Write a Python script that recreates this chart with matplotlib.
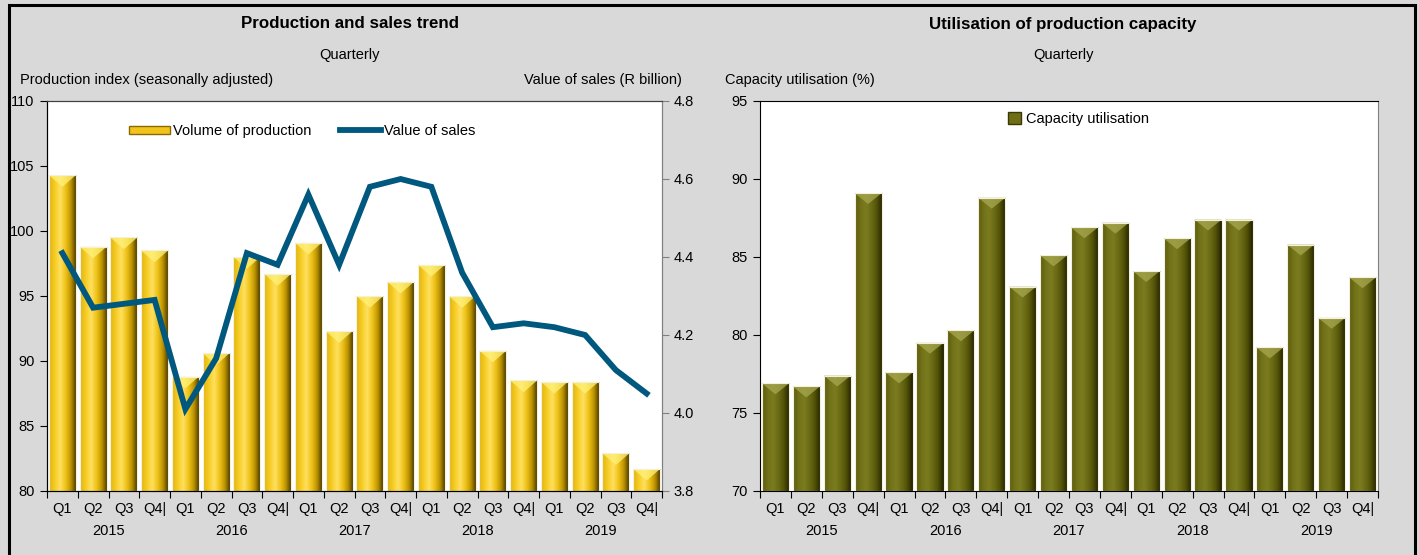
import matplotlib
matplotlib.use("Agg")
import matplotlib.pyplot as plt
import numpy as np
from matplotlib.colors import LinearSegmentedColormap
from matplotlib.patches import Rectangle, Polygon, Patch
from matplotlib.lines import Line2D
from matplotlib.transforms import blended_transform_factory

plt.rcParams["font.family"] = ["Liberation Sans Narrow", "Liberation Sans", "DejaVu Sans"]
FS = 10.5

# --- data ---
quarters = ["Q1", "Q2", "Q3", "Q4|"] * 5
years = ["2015", "2016", "2017", "2018", "2019"]

production = [104.3, 98.8, 99.5, 98.5,
              88.8, 90.6, 98.0, 96.7,
              99.1, 92.3, 95.0, 96.1,
              97.4, 95.0, 90.8, 88.5,
              88.4, 88.4, 82.9, 81.7]
sales = [4.41, 4.27, 4.28, 4.29,
         4.01, 4.14, 4.41, 4.38,
         4.56, 4.38, 4.58, 4.60,
         4.58, 4.36, 4.22, 4.23,
         4.22, 4.20, 4.11, 4.05]
capacity = [76.9, 76.7, 77.4, 89.1,
            77.6, 79.5, 80.3, 88.8,
            83.1, 85.1, 86.9, 87.2,
            84.1, 86.2, 87.4, 87.4,
            79.2, 85.8, 81.1, 83.7]

BG = "#d9d9d9"
LINE = "#00587f"
gold = LinearSegmentedColormap.from_list(
    "gold", ["#e0b414", "#f6cc22", "#ffe060", "#efc218", "#b89000", "#3e3000"])
olive = LinearSegmentedColormap.from_list(
    "olive", ["#5c5c10", "#727218", "#7b7b20", "#6a6a14", "#505008", "#202000"])


def bevel_bars(ax, x, vals, base, cmap, top_col, bevel, width=0.88):
    bars = ax.bar(x, np.array(vals) - base, width, bottom=base,
                  color="none", edgecolor="#f4f0dc", linewidth=0.8, zorder=3)
    grad = np.linspace(0, 1, 64).reshape(1, -1)
    for b, v in zip(bars, vals):
        x0 = b.get_x()
        x1 = x0 + b.get_width()
        im = ax.imshow(grad, cmap=cmap, aspect="auto", extent=[x0, x1, base, v],
                       zorder=2, interpolation="bicubic")
        im.set_clip_path(b)
        tri = Polygon([[x0, v], [x1, v], [(x0 + x1) / 2, v - bevel]],
                      closed=True, facecolor=top_col, edgecolor="none",
                      alpha=0.75, zorder=2.5)
        ax.add_patch(tri)
    return bars


def style_x(ax, n):
    ax.set_xlim(-0.5, n - 0.5)
    ax.set_xticks(np.arange(n + 1) - 0.5)
    ax.set_xticklabels([])
    ax.tick_params(axis="x", which="major", length=5, direction="out")
    ax.set_xticks(np.arange(n), minor=True)
    ax.set_xticklabels(quarters, minor=True, fontsize=FS)
    ax.tick_params(axis="x", which="minor", length=0, pad=8)
    tr = blended_transform_factory(ax.transData, ax.transAxes)
    for i, yr in enumerate(years):
        ax.text(4 * i + 1.5, -0.102, yr, transform=tr, ha="center",
                va="center", fontsize=FS)


fig = plt.figure(figsize=(14.19, 5.55), dpi=100, facecolor=BG)
n = len(production)
x = np.arange(n)

# --- left panel ---
ax1 = fig.add_axes([47 / 1419, 64 / 555, 615 / 1419, 390 / 555])
ax1.set_facecolor("white")
bevel_bars(ax1, x, production, 80, gold, "#fff27a", 0.9)
ax1.set_ylim(80, 110)
ax1.set_yticks(range(80, 111, 5))
ax1.tick_params(axis="y", labelsize=FS, length=5, pad=4)
style_x(ax1, n)
ax2 = ax1.twinx()
ax2.plot(x, sales, color=LINE, lw=4.2, solid_joinstyle="miter", zorder=5)
ax2.set_ylim(3.8, 4.8)
ax2.set_yticks(np.arange(3.8, 4.81, 0.2))
ax2.set_yticklabels([f"{v:.1f}" for v in np.arange(3.8, 4.81, 0.2)])
ax2.tick_params(axis="y", labelsize=FS, length=5, color="#808080")
for ax in (ax1, ax2):
    ax.spines["right"].set_color("#808080")
    ax.spines["top"].set_color("#404040")
handles = [Patch(facecolor="#f0c41c", edgecolor="#8a6a00"),
           Line2D([], [], color=LINE, lw=4.2)]
ax1.legend(handles, ["Volume of production", "Value of sales"], loc="center",
           bbox_to_anchor=(0.415, 0.923), ncol=2, frameon=False, fontsize=FS,
           handlelength=2.8, handleheight=0.45, handletextpad=0.2, columnspacing=2.0)

# --- right panel ---
ax3 = fig.add_axes([760 / 1419, 64 / 555, 618 / 1419, 390 / 555])
ax3.set_facecolor("white")
bevel_bars(ax3, x, capacity, 70, olive, "#a8a850", 0.7)
ax3.set_ylim(70, 95)
ax3.set_yticks(range(70, 96, 5))
ax3.tick_params(axis="y", labelsize=FS, length=5, pad=4)
style_x(ax3, n)
ax3.spines["right"].set_color("#808080")
ax3.legend([Patch(facecolor="#6e6e16", edgecolor="#3a3a00")], ["Capacity utilisation"],
           loc="center", bbox_to_anchor=(0.515, 0.954), frameon=False,
           fontsize=FS, handlelength=0.9, handleheight=0.9, handletextpad=0.3)

# --- titles and axis captions ---
W, H = 1419, 555
def ftext(px, py, s, size=FS, **kw):
    fig.text(px / W, 1 - py / H, s, va="center", fontsize=size, **kw)

ftext(350, 24, "Production and sales trend", size=12.2, ha="center", fontweight="bold")
ftext(350, 55, "Quarterly", ha="center")
ftext(20, 80, "Production index (seasonally adjusted)", ha="left")
ftext(682, 80, "Value of sales (R billion)", ha="right")
ftext(1063, 24, "Utilisation of production capacity", size=12.2, ha="center", fontweight="bold")
ftext(1063, 55, "Quarterly", ha="center")
ftext(725, 80, "Capacity utilisation (%)", ha="left")

fig.patches.append(Rectangle((9 / W, -0.02), 1406 / W, 1.02 - 5 / H, transform=fig.transFigure,
                             fill=False, edgecolor="black", linewidth=2.2))

fig.savefig("out.png", dpi=100, facecolor=BG)
